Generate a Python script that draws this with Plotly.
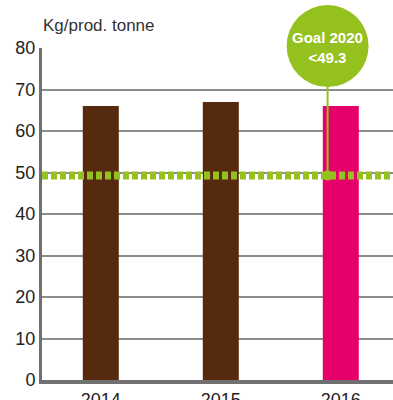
import plotly.graph_objects as go

# Emissions per produced tonne, by year
years = ["2014", "2015", "2016"]
values = [66, 67, 66]
bar_colors = ["#552a0e", "#552a0e", "#e5006a"]

goal_value = 49.3
goal_label = "Goal 2020<br><49.3"
y_title = "Kg/prod. tonne"
y_ticks = [0, 10, 20, 30, 40, 50, 60, 70, 80]

green = "#95c11f"
x_range = [-0.49, 2.435]
y_range = [0, 80]

fig = go.Figure()
fig.add_trace(go.Bar(
    x=list(range(len(years))), y=values, width=0.3,
    marker=dict(color=bar_colors, line=dict(width=0)),
    hoverinfo="skip",
))

# Goal level: thick dotted line across the plot
fig.add_shape(type="line", xref="paper", yref="y", x0=0, x1=1,
              y0=goal_value, y1=goal_value, layer="above",
              line=dict(color=green, width=8, dash="6px,3px"))

# Callout bubble linked to the goal line
bx = 1.89  # x position in data units
bx_paper = (bx - x_range[0]) / (x_range[1] - x_range[0])
fig.add_shape(type="line", xref="x", yref="y", x0=bx, x1=bx,
              y0=goal_value, y1=y_range[1], layer="above",
              line=dict(color=green, width=2))
fig.add_shape(type="circle", xref="paper", yref="paper",
              xsizemode="pixel", ysizemode="pixel",
              xanchor=bx_paper, yanchor=1.006,
              x0=-41, x1=41, y0=-41, y1=41,
              fillcolor=green, line=dict(width=0), layer="above")
fig.add_shape(type="circle", xref="x", yref="y",
              xsizemode="pixel", ysizemode="pixel",
              xanchor=bx, yanchor=goal_value,
              x0=-5, x1=5, y0=-5, y1=5,
              fillcolor=green, line=dict(width=0), layer="above")
fig.add_annotation(xref="paper", yref="paper", x=bx_paper, y=1.006,
                   xanchor="center", yanchor="middle",
                   text="<b>" + goal_label + "</b>", showarrow=False,
                   font=dict(family="Liberation Sans, Arial", size=15, color="white"),
                   align="center", yshift=-1)

fig.add_annotation(xref="paper", yref="paper", x=0, y=1.0, yshift=23,
                   xanchor="left", yanchor="middle", xshift=-1,
                   text=y_title, showarrow=False,
                   font=dict(family="Liberation Sans, Arial", size=17, color="#333333"))

fig.update_layout(
    width=393, height=400,
    margin=dict(l=42, r=0, t=48, b=20, autoexpand=False),
    paper_bgcolor="white", plot_bgcolor="white",
    showlegend=False,
    font=dict(family="Liberation Sans, Arial", color="#222222"),
    xaxis=dict(range=x_range, tickvals=list(range(len(years))), ticktext=years,
               showgrid=False, zeroline=False, showline=True, automargin=False,
               linecolor="#707070", linewidth=4, ticks="",
               tickfont=dict(size=18, color="#222222")),
    yaxis=dict(range=y_range, tickvals=y_ticks, showgrid=True, automargin=False,
               gridcolor="#8c8c8c", gridwidth=1.5, zeroline=False,
               showline=True, linecolor="#707070", linewidth=3, ticks="",
               tickfont=dict(size=18, color="#222222")),
)

fig.write_html("out.html")
